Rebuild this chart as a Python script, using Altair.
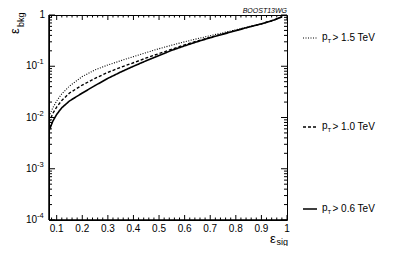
import altair as alt
import pandas as pd

# ---- data ----
eff_sig = [0.07, 0.085, 0.10, 0.12, 0.15, 0.20, 0.25, 0.30, 0.35, 0.40, 0.45,
           0.50, 0.55, 0.60, 0.65, 0.70, 0.75, 0.80, 0.85, 0.90, 0.95, 0.98]
bkg_pt06 = [0.0055, 0.0085, 0.0115, 0.0155, 0.021, 0.030, 0.042, 0.058, 0.077, 0.100, 0.128,
            0.162, 0.205, 0.250, 0.302, 0.360, 0.422, 0.495, 0.580, 0.670, 0.800, 0.920]
bkg_pt10 = [0.0080, 0.0120, 0.0160, 0.0215, 0.030, 0.043, 0.058, 0.076, 0.095, 0.117, 0.145,
            0.177, 0.215, 0.262, 0.312, 0.367, 0.430, 0.500, 0.580, 0.670, 0.800, 0.920]
bkg_pt15 = [0.0105, 0.0155, 0.021, 0.029, 0.041, 0.063, 0.085, 0.106, 0.128, 0.154, 0.185,
            0.220, 0.258, 0.300, 0.345, 0.395, 0.450, 0.515, 0.590, 0.675, 0.800, 0.920]
series_names = ["pT > 1.5 TeV", "pT > 1.0 TeV", "pT > 0.6 TeV"]
legend_suffix = ["> 1.5 TeV", "> 1.0 TeV", "> 0.6 TeV"]
x_tick_values = [0.1, 0.2, 0.3, 0.4, 0.5, 0.6, 0.7, 0.8, 0.9, 1.0]
x_tick_labels = ["0.1", "0.2", "0.3", "0.4", "0.5", "0.6", "0.7", "0.8", "0.9", "1"]
x_minor_values = [round(0.02 * i, 2) for i in range(4, 50) if i % 5 != 0]
y_exponents = [-4, -3, -2, -1]
y_major_values = [1e-4, 1e-3, 1e-2, 1e-1, 1.0]
y_minor_values = [m * 10.0 ** k for k in y_exponents for m in range(2, 10)]

W, H = 238, 205
FONT = "Liberation Sans"

rows = []
for name, vals in zip(series_names, [bkg_pt15, bkg_pt10, bkg_pt06]):
    for s, b in zip(eff_sig, vals):
        rows.append({"sig": s, "bkg": b, "series": name})
df = pd.DataFrame(rows)

xscale = alt.Scale(domain=[0.07, 1.0], nice=False, zero=False)
yscale = alt.Scale(type="log", domain=[1e-4, 1], nice=False)

dash_range = [[1, 1.5], [3, 2], [1, 0]]
width_range = [1.1, 1.6, 1.7]

lines = alt.Chart(df).mark_line(clip=True, color="black").encode(
    x=alt.X("sig:Q", scale=xscale, axis=None),
    y=alt.Y("bkg:Q", scale=yscale, axis=None),
    strokeDash=alt.StrokeDash("series:N", scale=alt.Scale(domain=series_names, range=dash_range), legend=None),
    strokeWidth=alt.StrokeWidth("series:N", scale=alt.Scale(domain=series_names, range=width_range), legend=None),
    order=alt.Order("sig:Q"),
)

layers = [lines]

one = pd.DataFrame({"a": [0]})

# frame: thicker left and bottom axis lines
layers.append(alt.Chart(one).mark_rule(color="black", strokeWidth=1.5).encode(
    x=alt.value(0), y=alt.value(0), y2=alt.value(H)))
layers.append(alt.Chart(one).mark_rule(color="black", strokeWidth=1.5).encode(
    x=alt.value(0), x2=alt.value(W), y=alt.value(H)))

# x ticks (bottom and top, pointing inward)
xmaj = pd.DataFrame({"sig": x_tick_values, "lab": x_tick_labels})
xmin = pd.DataFrame({"sig": x_minor_values})
for d, ln in [(xmaj, 5), (xmin, 2.5)]:
    layers.append(alt.Chart(d).mark_rule(color="black", strokeWidth=1).encode(
        x=alt.X("sig:Q", scale=xscale, axis=None), y=alt.value(H), y2=alt.value(H - ln)))
    layers.append(alt.Chart(d).mark_rule(color="black", strokeWidth=1).encode(
        x=alt.X("sig:Q", scale=xscale, axis=None), y=alt.value(0), y2=alt.value(ln)))

# x tick labels
layers.append(alt.Chart(xmaj).mark_text(align="center", baseline="middle", fontSize=10,
                                        font=FONT, color="black").encode(
    x=alt.X("sig:Q", scale=xscale, axis=None), y=alt.value(H + 9), text="lab:N"))

# y ticks (left and right, pointing inward)
ymaj = pd.DataFrame({"bkg": y_major_values})
ymin = pd.DataFrame({"bkg": y_minor_values})
for d, ln in [(ymaj, 6), (ymin, 3)]:
    layers.append(alt.Chart(d).mark_rule(color="black", strokeWidth=1).encode(
        y=alt.Y("bkg:Q", scale=yscale, axis=None), x=alt.value(0), x2=alt.value(ln)))
    layers.append(alt.Chart(d).mark_rule(color="black", strokeWidth=1).encode(
        y=alt.Y("bkg:Q", scale=yscale, axis=None), x=alt.value(W), x2=alt.value(W - ln)))

# y tick labels: 10^k
ylab = pd.DataFrame({"bkg": [10.0 ** k for k in y_exponents],
                     "base": ["10"] * len(y_exponents),
                     "exp": [str(k) for k in y_exponents]})
layers.append(alt.Chart(ylab).mark_text(align="right", baseline="middle", fontSize=10,
                                        font=FONT, color="black").encode(
    y=alt.Y("bkg:Q", scale=yscale, axis=None), x=alt.value(-12), text="base:N"))
layers.append(alt.Chart(ylab).mark_text(align="left", baseline="middle", fontSize=7.5, dy=-4,
                                        font=FONT, color="black").encode(
    y=alt.Y("bkg:Q", scale=yscale, axis=None), x=alt.value(-12), text="exp:N"))
layers.append(alt.Chart(pd.DataFrame({"bkg": [1.0], "t": ["1"]})).mark_text(
    align="right", baseline="middle", fontSize=10, font=FONT, color="black").encode(
    y=alt.Y("bkg:Q", scale=yscale, axis=None), x=alt.value(-4), text="t:N"))


def txt(s, x, y, size, **kw):
    return alt.Chart(one).mark_text(fontSize=size, font=FONT, color="black", **kw).encode(
        x=alt.value(x), y=alt.value(y), text=alt.value(s))

# axis titles
layers.append(txt("ε", -34, 19, 13, angle=270, align="left", baseline="middle"))
layers.append(txt("bkg", -28.5, 12, 9, angle=270, align="left", baseline="middle"))
layers.append(txt("ε", 221, 224, 13, align="left", baseline="middle"))
layers.append(txt("sig", 227.5, 227, 9, align="left", baseline="middle"))
layers.append(txt("BOOST13WG", W, -2.5, 7, align="right", baseline="alphabetic", fontStyle="italic"))

# legend
legend_y = [23, 112, 194]
for suffix, dash, sw, ly in zip(legend_suffix, dash_range, width_range, legend_y):
    layers.append(alt.Chart(one).mark_rule(color="black", strokeDash=dash, strokeWidth=sw).encode(
        x=alt.value(W + 16), x2=alt.value(W + 30), y=alt.value(ly)))
    layers.append(txt("p", W + 35, ly - 1, 10, align="left", baseline="middle"))
    layers.append(txt("T", W + 40.5, ly + 3, 6, align="left", baseline="middle"))
    layers.append(txt(suffix, W + 45.5, ly, 10, align="left", baseline="middle"))

chart = alt.layer(*layers).properties(
    width=W, height=H,
    padding={"left": 41, "top": 7, "right": 104, "bottom": 26},
    autosize=alt.AutoSizeParams(type="none"),
).configure_view(stroke="black", strokeWidth=1)

chart.save("out.html", embed_options={"renderer": "svg", "actions": False})
